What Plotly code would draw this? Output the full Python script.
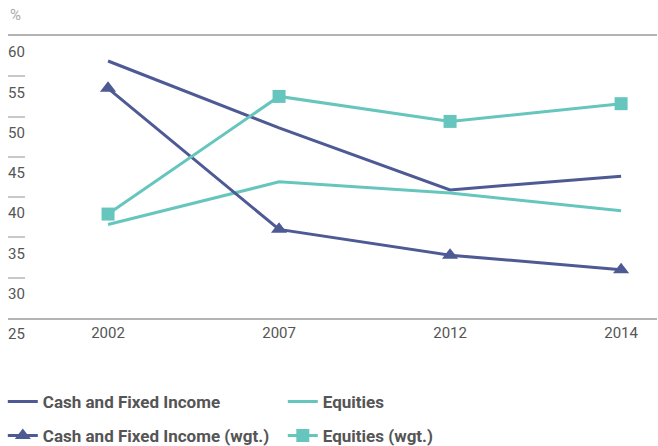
import plotly.graph_objects as go

years = ["2002", "2007", "2012", "2014"]
cash = [56.9, 48.6, 40.9, 42.6]
equities = [36.6, 41.9, 40.5, 38.3]
cash_wgt = [53.5, 36.0, 32.8, 31.0]
equities_wgt = [37.9, 52.5, 49.4, 51.6]
y_ticks = [25, 30, 35, 40, 45, 50, 55, 60]

C_CASH = "#4d5a94"
C_EQ = "#66c6be"
FONT = "Roboto, Liberation Sans, sans-serif"

fig = go.Figure()
fig.add_trace(go.Scatter(x=years, y=cash, mode="lines", name="Cash and Fixed Income",
                         line=dict(color=C_CASH, width=3), legend="legend"))
fig.add_trace(go.Scatter(x=years, y=equities, mode="lines", name="Equities",
                         line=dict(color=C_EQ, width=3), legend="legend"))
fig.add_trace(go.Scatter(x=years, y=cash_wgt, mode="lines+markers", name="Cash and Fixed Income (wgt.)",
                         line=dict(color=C_CASH, width=3),
                         marker=dict(symbol="triangle-up", size=14, color=C_CASH), legend="legend2"))
fig.add_trace(go.Scatter(x=years, y=equities_wgt, mode="lines+markers", name="Equities (wgt.)",
                         line=dict(color=C_EQ, width=3),
                         marker=dict(symbol="square", size=13, color=C_EQ), legend="legend2"))

legend_common = dict(orientation="h", x=-0.008, xanchor="left", yanchor="middle",
                     font=dict(family=FONT, size=17, color="#555555", weight="bold"),
                     entrywidth=235, entrywidthmode="pixels", bgcolor="rgba(0,0,0,0)",
                     itemwidth=30)
fig.update_layout(
    width=658, height=446,
    margin=dict(l=8, r=1, t=36, b=128, autoexpand=False),
    paper_bgcolor="white", plot_bgcolor="white",
    showlegend=True,
    legend=dict(y=-0.298, **legend_common),
    legend2=dict(y=-0.418, **legend_common),
    xaxis=dict(type="category", range=[-0.585, 3.21], showgrid=False, automargin=False,
               showline=True, mirror=True, linecolor="#b4b4b4", linewidth=2,
               ticks="", tickfont=dict(family=FONT, size=15, color="#555555"),
               zeroline=False),
    yaxis=dict(range=[25, 60], tickvals=y_ticks, ticktext=[str(v) for v in y_ticks],
               showgrid=False, showline=False, zeroline=False, automargin=False,
               ticks="inside", ticklen=17, tickcolor="#c8c8c8", tickwidth=1.5,
               ticklabelposition="inside", ticklabelshift=16, ticklabelstandoff=-17,
               ticklabeloverflow="allow",
               tickfont=dict(family=FONT, size=15, color="#555555")),
    annotations=[dict(text="%", xref="paper", yref="paper", x=0, y=1, xanchor="left",
                      yanchor="bottom", yshift=10, showarrow=False,
                      font=dict(family=FONT, size=15, color="#aaaaaa"))],
)
fig.write_html("out.html", config={"displayModeBar": False},
               post_script="document.body.style.margin='0';document.body.style.overflow='hidden';")
